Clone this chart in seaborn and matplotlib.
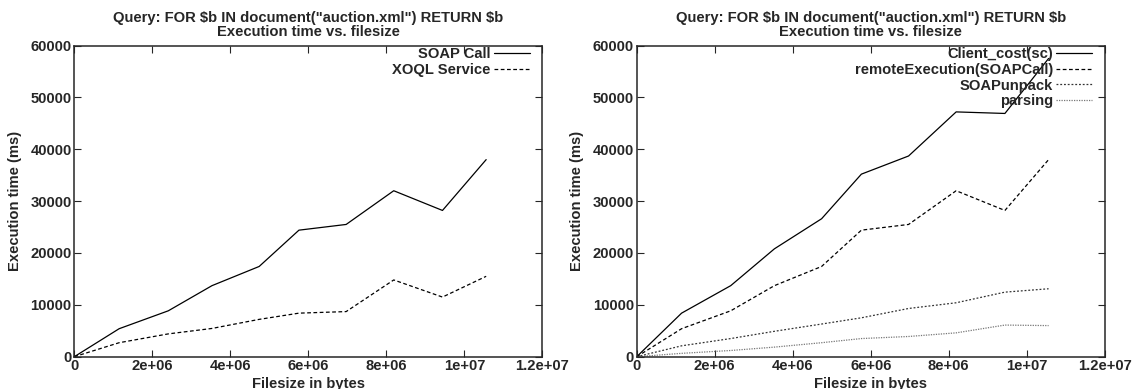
import numpy as np
import pandas as pd
import matplotlib
matplotlib.use("Agg")
import matplotlib.pyplot as plt
import seaborn as sns

# values
filesize = [0, 1.15e6, 2.41e6, 3.53e6, 4.74e6, 5.76e6, 6.97e6, 8.19e6, 9.44e6, 10.56e6]
soap_call = [0, 5400, 8850, 13700, 17400, 24400, 25500, 32000, 28200, 38000]
xoql_service = [0, 2700, 4400, 5450, 7200, 8400, 8700, 14800, 11500, 15500]
client_cost = [0, 8400, 13700, 20800, 26600, 35200, 38700, 47200, 46900, 57500]
remote_exec = soap_call
soap_unpack = [0, 2100, 3500, 4900, 6300, 7500, 9300, 10400, 12450, 13100]
parsing = [0, 650, 1200, 1850, 2700, 3500, 3900, 4600, 6100, 6000]

xticks = [0, 2e6, 4e6, 6e6, 8e6, 1e7, 1.2e7]
xtick_labels = ["0", "2e+06", "4e+06", "6e+06", "8e+06", "1e+07", "1.2e+07"]
yticks = [0, 10000, 20000, 30000, 40000, 50000, 60000]

title = 'Query: FOR \\$b IN document("auction.xml") RETURN \\$b\nExecution time vs. filesize'

sns.set_style("ticks")
plt.rcParams['font.family'] = ['Liberation Sans', 'DejaVu Sans']
plt.rcParams['font.weight'] = 'bold'
FS = 10.6

fig = plt.figure(figsize=(11.36, 3.89), dpi=100)
ax1 = fig.add_axes([0.0654, 0.083, 0.412, 0.800])
ax2 = fig.add_axes([0.5605, 0.083, 0.412, 0.800])

df_left = pd.DataFrame({"x": filesize, "SOAP Call": soap_call, "XOQL Service": xoql_service})
sns.lineplot(data=df_left, x="x", y="SOAP Call", ax=ax1, color="black", lw=0.9, label="SOAP Call")
sns.lineplot(data=df_left, x="x", y="XOQL Service", ax=ax1, color="black", lw=0.9, label="XOQL Service")
ax1.lines[-1].set_dashes((3, 2))

df_right = pd.DataFrame({"x": filesize, "client": client_cost, "remote": remote_exec,
                         "unpack": soap_unpack, "parsing": parsing})
sns.lineplot(data=df_right, x="x", y="client", ax=ax2, color="black", lw=0.9, label="Client_cost(sc)")
sns.lineplot(data=df_right, x="x", y="remote", ax=ax2, color="black", lw=0.9, label="remoteExecution(SOAPCall)")
ax2.lines[-1].set_dashes((3, 2))
sns.lineplot(data=df_right, x="x", y="unpack", ax=ax2, color="#333333", lw=0.9, label="SOAPunpack")
ax2.lines[-1].set_dashes((1.5, 1.5))
sns.lineplot(data=df_right, x="x", y="parsing", ax=ax2, color="#777777", lw=0.9, label="parsing")
ax2.lines[-1].set_dashes((1, 1))

for ax in (ax1, ax2):
    ax.set_xlim(0, 1.2e7)
    ax.set_ylim(0, 60000)
    ax.set_xticks(xticks)
    ax.set_xticklabels(xtick_labels, fontweight="bold")
    ax.set_yticks(yticks)
    ax.set_yticklabels([str(v) for v in yticks], fontweight="bold")
    ax.tick_params(direction="in", length=5, width=0.8, top=True, right=True, pad=2, labelsize=FS)
    for s in ax.spines.values():
        s.set_linewidth(1.1)
        s.set_visible(True)
    ax.set_xlabel("Filesize in bytes", fontweight="bold", fontsize=FS, labelpad=2.2)
    ax.set_ylabel("Execution time (ms)", fontweight="bold", fontsize=FS, labelpad=6)
    ax.set_title(title, fontweight="bold", fontsize=FS, pad=6.5, linespacing=1.05)
    leg = ax.legend(loc="upper right", bbox_to_anchor=(0.973, 0.995), frameon=False,
                    markerfirst=False, handlelength=2.45, handletextpad=0.2,
                    labelspacing=0.12, borderaxespad=0, borderpad=0,
                    prop={"weight": "bold", "size": FS})

fig.savefig("out.png", dpi=100)
